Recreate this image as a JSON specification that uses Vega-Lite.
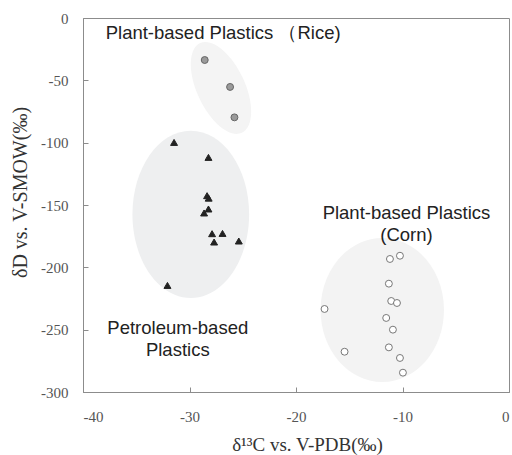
{
  "$schema": "https://vega.github.io/schema/vega-lite/v6.json",
  "autosize": {"type": "none"},
  "width": 426,
  "height": 374,
  "padding": {"left": 83, "top": 18, "right": 3, "bottom": 63},
  "background": "white",
  "config": {
    "view": {"stroke": "#8c8c8c", "strokeWidth": 1},
    "axis": {
      "grid": false,
      "domainColor": "#8c8c8c",
      "tickColor": "#8c8c8c",
      "tickSize": -5,
      "labelFont": "Liberation Serif",
      "labelFontSize": 15,
      "labelColor": "#555555",
      "labelExpr": "replace(datum.label, '−', '-')",
      "titleFont": "Liberation Serif",
      "titleFontWeight": "normal",
      "titleColor": "#333333"
    }
  },
  "datasets": {
    "samples": [
      {"group": "Rice", "d13C": -28.57, "dD": -33.7},
      {"group": "Rice", "d13C": -26.19, "dD": -55.3},
      {"group": "Rice", "d13C": -25.78, "dD": -79.7},
      {"group": "Petroleum", "d13C": -31.45, "dD": -99.8},
      {"group": "Petroleum", "d13C": -28.22, "dD": -111.8},
      {"group": "Petroleum", "d13C": -28.35, "dD": -142.5},
      {"group": "Petroleum", "d13C": -28.2, "dD": -144.5},
      {"group": "Petroleum", "d13C": -28.22, "dD": -153.2},
      {"group": "Petroleum", "d13C": -28.63, "dD": -156.4},
      {"group": "Petroleum", "d13C": -27.88, "dD": -173.0},
      {"group": "Petroleum", "d13C": -26.9, "dD": -172.8},
      {"group": "Petroleum", "d13C": -27.69, "dD": -179.7},
      {"group": "Petroleum", "d13C": -25.37, "dD": -178.9},
      {"group": "Petroleum", "d13C": -32.07, "dD": -214.5},
      {"group": "Corn", "d13C": -11.18, "dD": -193.3},
      {"group": "Corn", "d13C": -10.24, "dD": -190.7},
      {"group": "Corn", "d13C": -11.28, "dD": -213.1},
      {"group": "Corn", "d13C": -11.06, "dD": -227.0},
      {"group": "Corn", "d13C": -10.52, "dD": -228.6},
      {"group": "Corn", "d13C": -17.32, "dD": -233.4},
      {"group": "Corn", "d13C": -11.53, "dD": -240.6},
      {"group": "Corn", "d13C": -10.9, "dD": -250.0},
      {"group": "Corn", "d13C": -15.44, "dD": -267.7},
      {"group": "Corn", "d13C": -11.28, "dD": -264.2},
      {"group": "Corn", "d13C": -10.24, "dD": -272.7},
      {"group": "Corn", "d13C": -9.96, "dD": -284.5}
    ],
    "regions": [
      {"group": "Rice", "d13C": -27.04, "dD": -56.1},
      {"group": "Petroleum", "d13C": -29.88, "dD": -157.5},
      {"group": "Corn", "d13C": -11.9, "dD": -234.2}
    ],
    "labels": [
      {"group": "Rice", "d13C": -37.87, "dD": -12.0, "text": "Plant-based Plastics （Rice)"},
      {"group": "Petroleum", "d13C": -31.1, "dD": -248.4, "text": "Petroleum-based\nPlastics"},
      {"group": "Corn", "d13C": -9.63, "dD": -156.2, "text": "Plant-based Plastics\n(Corn)"}
    ]
  },
  "encoding": {
    "x": {
      "field": "d13C",
      "type": "quantitative",
      "scale": {"domain": [-40, 0], "nice": false, "zero": false},
      "axis": {
        "values": [-40, -30, -20, -10, 0],
        "labelPadding": 22,
        "title": "δ¹³C vs.  V-PDB(‰)",
        "titleFontSize": 19,
        "titleX": 224,
        "titleY": 52,
        "titleAlign": "center",
        "titleBaseline": "middle"
      }
    },
    "y": {
      "field": "dD",
      "type": "quantitative",
      "scale": {"domain": [-300, 0], "nice": false, "zero": false},
      "axis": {
        "values": [-300, -250, -200, -150, -100, -50, 0],
        "labelPadding": 20,
        "title": "δD vs.  V-SMOW(‰)",
        "titleFontSize": 20,
        "titleAngle": 270,
        "titleX": -63,
        "titleY": 174,
        "titleAlign": "center",
        "titleBaseline": "middle"
      }
    }
  },
  "layer": [
    {
      "data": {"name": "regions"},
      "transform": [{"filter": "datum.group === 'Petroleum'"}],
      "mark": {
        "type": "point",
        "shape": "M-0.697,0A0.697,1 0 1,1 0.697,0A0.697,1 0 1,1 -0.697,0Z",
        "size": 28022,
        "filled": true,
        "fill": "#eeeff0",
        "strokeWidth": 0,
        "opacity": 1
      }
    },
    {
      "data": {"name": "regions"},
      "transform": [{"filter": "datum.group === 'Corn'"}],
      "mark": {
        "type": "point",
        "shape": "M-0.857,0A0.857,1 0 1,1 0.857,0A0.857,1 0 1,1 -0.857,0Z",
        "size": 20736,
        "filled": true,
        "fill": "#f3f3f3",
        "strokeWidth": 0,
        "opacity": 1
      }
    },
    {
      "data": {"name": "regions"},
      "transform": [{"filter": "datum.group === 'Rice'"}],
      "mark": {
        "type": "point",
        "shape": "M-0.485,0A0.485,1 0 1,1 0.485,0A0.485,1 0 1,1 -0.485,0Z",
        "size": 9801,
        "angle": 335,
        "filled": true,
        "fill": "#f4f4f4",
        "strokeWidth": 0,
        "opacity": 1
      }
    },
    {
      "data": {"name": "samples"},
      "mark": {"type": "point", "size": 48, "strokeWidth": 1, "opacity": 1},
      "encoding": {
        "shape": {
          "field": "group",
          "type": "nominal",
          "scale": {"domain": ["Rice", "Petroleum", "Corn"], "range": ["circle", "triangle-up", "circle"]},
          "legend": null
        },
        "fill": {
          "field": "group",
          "type": "nominal",
          "scale": {"domain": ["Rice", "Petroleum", "Corn"], "range": ["#9a9a9a", "#222222", "#ffffff"]},
          "legend": null
        },
        "stroke": {
          "field": "group",
          "type": "nominal",
          "scale": {"domain": ["Rice", "Petroleum", "Corn"], "range": ["#666666", "#222222", "#777777"]},
          "legend": null
        }
      }
    },
    {
      "data": {"name": "labels"},
      "transform": [{"filter": "datum.group === 'Rice'"}],
      "mark": {"type": "text", "font": "Liberation Sans", "fontSize": 18.5, "align": "left", "baseline": "middle", "color": "#222222"},
      "encoding": {"text": {"field": "text"}}
    },
    {
      "data": {"name": "labels"},
      "transform": [{"filter": "datum.group !== 'Rice'"}],
      "mark": {"type": "text", "font": "Liberation Sans", "fontSize": 18.5, "align": "center", "baseline": "middle", "lineBreak": "\n", "lineHeight": 22.6, "color": "#222222"},
      "encoding": {"text": {"field": "text"}}
    }
  ]
}
